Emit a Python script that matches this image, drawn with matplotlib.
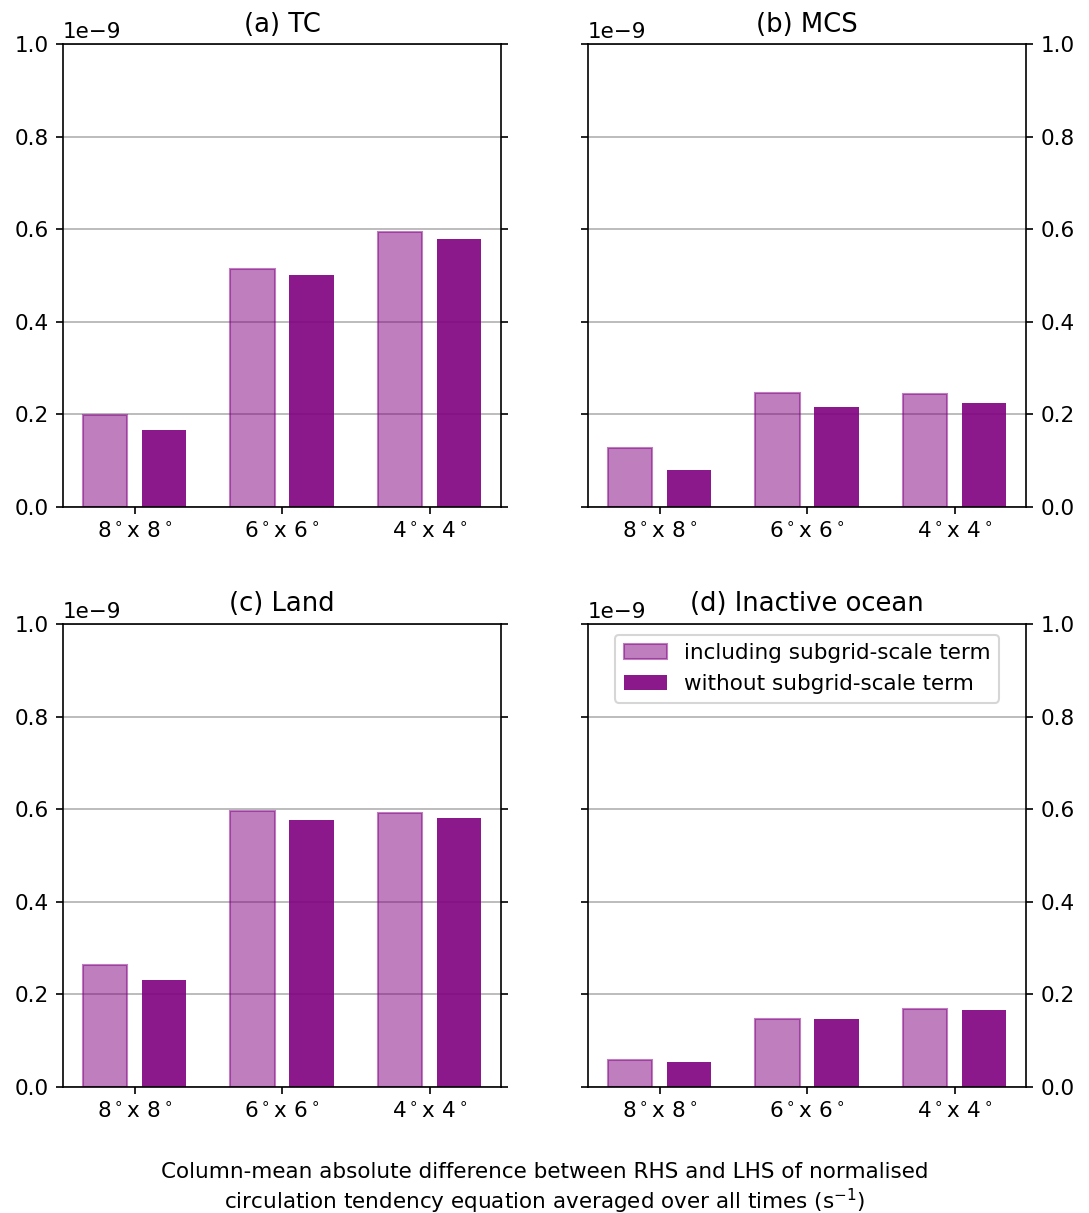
import matplotlib

matplotlib.use("Agg")
import matplotlib.pyplot as plt
import numpy as np

## Box sizes and panel titles
boxes = [r"8$^\circ$x 8$^\circ$", r"6$^\circ$x 6$^\circ$", r"4$^\circ$x 4$^\circ$"]
titles = ["(a) TC", "(b) MCS", "(c) Land", "(d) Inactive ocean"]

## Mean absolute RHS - LHS difference (s^-1)
tc_incl = np.array([0.199, 0.514, 0.594]) * 1e-9
tc_excl = np.array([0.166, 0.501, 0.579]) * 1e-9
mcs_incl = np.array([0.128, 0.247, 0.245]) * 1e-9
mcs_excl = np.array([0.081, 0.215, 0.224]) * 1e-9
land_incl = np.array([0.264, 0.597, 0.591]) * 1e-9
land_excl = np.array([0.230, 0.576, 0.580]) * 1e-9
ocean_incl = np.array([0.058, 0.147, 0.168]) * 1e-9
ocean_excl = np.array([0.054, 0.146, 0.166]) * 1e-9

incl = [tc_incl, mcs_incl, land_incl, ocean_incl]
excl = [tc_excl, mcs_excl, land_excl, ocean_excl]

fs = 10.35
plt.rcParams["font.size"] = fs
plt.rcParams["xtick.labelsize"] = fs
plt.rcParams["ytick.labelsize"] = fs

fig = plt.figure(figsize=(7.26, 8.087), dpi=150)
lefts = [0.0579, 0.540, 0.0579, 0.540]
bottoms = [0.582, 0.582, 0.1039, 0.1039]

x = np.arange(len(boxes))
w = 0.3

for i in range(4):
    ax = fig.add_axes([lefts[i], bottoms[i], 0.4022, 0.3817])
    ax.bar(x - 0.2, incl[i], w, color="purple", alpha=0.5, edgecolor="purple",
           linewidth=1, label="including subgrid-scale term")
    ax.bar(x + 0.2, excl[i], w, color="purple", alpha=0.9,
           label="without subgrid-scale term")
    ax.set_ylim(0, 1e-9)
    ax.set_xticks(x)
    ax.set_xticklabels(boxes)
    ax.set_title(titles[i], fontsize=12.4)
    ax.grid(axis="y")
    ax.set_axisbelow(True)
    ax.yaxis.set_ticks_position("both")
    if i % 2 == 1:
        ax.tick_params(axis="y", labelleft=False, labelright=True)
    if i == 3:
        ax.legend(loc="upper center", fontsize=fs)

fig.text(0.5, 0.0198,
         "Column-mean absolute difference between RHS and LHS of normalised\n"
         "circulation tendency equation averaged over all times (s$^{-1}$)",
         ha="center", va="center", fontsize=fs)

plt.savefig("out.png", dpi=150)
